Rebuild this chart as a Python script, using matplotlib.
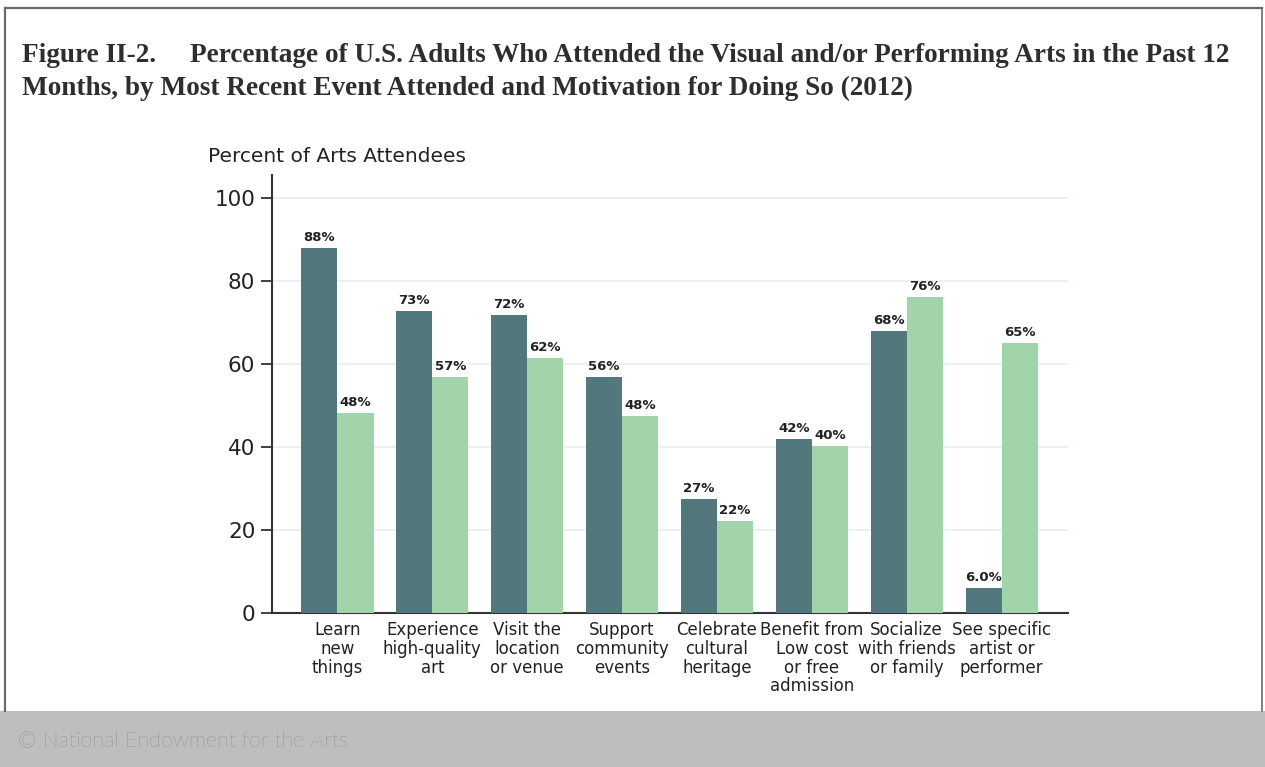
import matplotlib
matplotlib.use("Agg")
import matplotlib.pyplot as plt
from matplotlib.patches import Rectangle
from matplotlib.lines import Line2D
import numpy as np

categories = ["Learn\nnew\nthings", "Experience\nhigh-quality\nart", "Visit the\nlocation\nor venue",
              "Support\ncommunity\nevents", "Celebrate\ncultural\nheritage",
              "Benefit from\nLow cost\nor free\nadmission", "Socialize\nwith friends\nor family",
              "See specific\nartist or\nperformer"]
dark_values = [88.0, 72.8, 71.8, 56.8, 27.5, 41.9, 68.0, 6.0]
light_values = [48.2, 56.9, 61.4, 47.5, 22.2, 40.2, 76.1, 65.1]
dark_labels = ["88%", "73%", "72%", "56%", "27%", "42%", "68%", "6.0%"]
light_labels = ["48%", "57%", "62%", "48%", "22%", "40%", "76%", "65%"]
yticks = [0, 20, 40, 60, 80, 100]

dark_color = "#52777c"
light_color = "#a1d4a9"

fig = plt.figure(figsize=(12.65, 7.67), dpi=100)
fig.patch.set_facecolor("white")

# frame and footer
fig.add_artist(Rectangle((0, 0), 1, 56/767, transform=fig.transFigure, facecolor="#bebebe", edgecolor="none", zorder=0))
fig.add_artist(Line2D([5/1265, 1262/1265], [1-8/767, 1-8/767], transform=fig.transFigure, color="#6a6a6a", lw=1.6))
fig.add_artist(Line2D([5/1265, 5/1265], [56/767, 1-8/767], transform=fig.transFigure, color="#6a6a6a", lw=1.6))
fig.add_artist(Line2D([1262/1265, 1262/1265], [56/767, 1-8/767], transform=fig.transFigure, color="#6a6a6a", lw=1.2))
fig.text(18/1265, 1-740/767, "\u00a9 National Endowment for the Arts", fontsize=15.5, color="#6c6c6c",
         family="Lato", fontweight="light", va="center", ha="left")

# title
title_kw = dict(family="Liberation Serif", fontweight="bold", fontsize=19.6, color="#2e2e2e", va="center", ha="left")
fig.text(22/1265, 1-56/767, "Figure II-2.", **title_kw)
fig.text(190/1265, 1-56/767, "Percentage of U.S. Adults Who Attended the Visual and/or Performing Arts in the Past 12", **title_kw)
fig.text(22/1265, 1-88/767, "Months, by Most Recent Event Attended and Motivation for Doing So (2012)", **title_kw)

ax = fig.add_axes([272/1265, 1-613/767, (1068-272)/1265, (613-175)/767])
x = np.arange(len(categories))
w = 0.38
b1 = ax.bar(x - w/2, dark_values, w, color=dark_color, zorder=3)
b2 = ax.bar(x + w/2, light_values, w, color=light_color, zorder=3)
for rect, lab in zip(b1, dark_labels):
    ax.text(rect.get_x() + rect.get_width()/2, rect.get_height() + 1.0, lab, ha="center", va="bottom",
            fontsize=9.5, color="#222222", family="DejaVu Sans", fontweight="bold")
for rect, lab in zip(b2, light_labels):
    ax.text(rect.get_x() + rect.get_width()/2, rect.get_height() + 1.0, lab, ha="center", va="bottom",
            fontsize=9.5, color="#222222", family="DejaVu Sans", fontweight="bold")

ax.set_xlim(-0.69, 7.7)
ax.set_ylim(0, 105.5)
ax.set_yticks(yticks)
ax.set_yticklabels([str(t) for t in yticks], fontsize=15.5, color="#222222")
ax.set_xticks(x)
ax.set_xticklabels(categories, fontsize=12, color="#222222", linespacing=1.05)
ax.tick_params(axis="x", length=0, pad=6)
ax.tick_params(axis="y", length=8, width=1.3, color="#333333", pad=4)
for t in yticks[1:]:
    ax.axhline(t, color="#e6f1f4", lw=1.3, zorder=1)
for s in ["top", "right"]:
    ax.spines[s].set_visible(False)
ax.spines["left"].set_color("#333333")
ax.spines["bottom"].set_color("#333333")
ax.spines["left"].set_linewidth(1.5)
ax.spines["bottom"].set_linewidth(1.5)

fig.text(208/1265, 1-157/767, "Percent of Arts Attendees", fontsize=14.5, color="#222222", va="center", ha="left")

fig.savefig("out.png", dpi=100)
